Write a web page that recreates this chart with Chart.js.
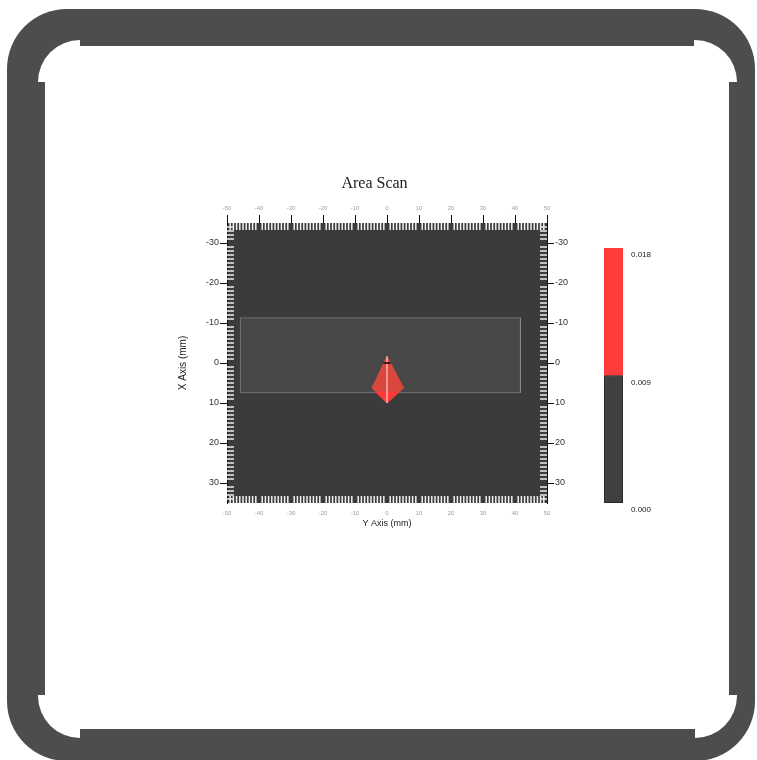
<!DOCTYPE html>
<html>
<head>
<meta charset="utf-8">
<title>Area Scan</title>
<script src="https://cdn.jsdelivr.net/npm/chart.js@4.4.0/dist/chart.umd.min.js"></script>
<style>
  html, body { margin: 0; padding: 0; background: #fff; }
  #wrap { position: relative; width: 757px; height: 760px; overflow: hidden; }
  #scan { position: absolute; left: 0; top: 0; }
  #scale { position: absolute; left: 590px; top: 235px; }
</style>
</head>
<body>
<div id="wrap">
  <canvas id="scan" width="757" height="760"></canvas>
  <canvas id="scale" width="90" height="290"></canvas>
</div>
<script>
'use strict';

// Horizontal axis is labelled "Y Axis (mm)", vertical one "X Axis (mm)".
const yAxisTicks = [-50, -40, -30, -20, -10, 0, 10, 20, 30, 40, 50];
const xAxisTicks = [-30, -20, -10, 0, 10, 20, 30];

// scanned area outline (mm)
const scanAreaY = [-45.8, 41.7, 41.7, -45.8, -45.8];
const scanAreaX = [-11.3, -11.3, 7.4, 7.4, -11.3];

// indication found in the scan
const indicationY = [0, 5.2, 0, -4.7, 0];
const indicationX = [-1.65, 6.25, 10, 6.25, -1.65];
const peakY = [-3.4, 3.4, 0, -3.4];
const peakX = [7.4, 7.4, 10, 7.4];
const centreLineY = [0, 0];
const centreLineX = [-1.65, 10];
const originY = [-1.1, 1.1];
const originX = [0, 0];

// colour scale
const colorBands = [0.009, 0.009];
const colorFills = ['#404040', '#ff3b3b'];
const colorTicks = [0, 0.009, 0.018];

const FRAME = '#4d4d4d';
const SANS = "'Liberation Sans', Arial, sans-serif";

function pts(hs, vs) {
  return hs.map((h, i) => ({ x: h, y: vs[i] }));
}

// Rounded frame around the page and the dark plot background
const framePlugin = {
  id: 'frame',
  beforeDraw(chart) {
    const ctx = chart.ctx;
    const a = chart.chartArea;
    ctx.save();
    ctx.fillStyle = '#fff';
    ctx.fillRect(0, 0, chart.width, chart.height);
    ctx.fillStyle = FRAME;
    ctx.beginPath();
    ctx.roundRect(7, 9, 748, 752, 60);
    ctx.fill();
    ctx.fillStyle = '#fff';
    ctx.beginPath();
    ctx.roundRect(38, 40, 699, 698, 42);
    ctx.fill();
    ctx.fillStyle = FRAME;
    ctx.fillRect(80, 40, 614, 6);
    ctx.fillRect(80, 729, 615, 9);
    ctx.fillRect(38, 82, 7, 613);
    ctx.fillRect(729, 82, 8, 613);
    ctx.fillStyle = '#3b3b3b';
    ctx.fillRect(a.left, a.top, a.width, a.height);
    ctx.restore();
  }
};

// White ruler marks along the inside of the plot edges
const rulerPlugin = {
  id: 'ruler',
  afterDatasetsDraw(chart) {
    const { ctx, chartArea: a, scales } = chart;
    ctx.save();
    ctx.strokeStyle = '#f0f0f0';
    ctx.lineWidth = 1.5;
    ctx.beginPath();
    for (let v = -49; v <= 49; v++) {
      if (v % 10 === 0) continue;
      const px = scales.x.getPixelForValue(v);
      ctx.moveTo(px, a.top);
      ctx.lineTo(px, a.top + 7);
      ctx.moveTo(px, a.bottom);
      ctx.lineTo(px, a.bottom - 7);
    }
    for (let v = -34; v <= 34; v++) {
      if (v % 10 === 0) continue;
      const py = scales.y.getPixelForValue(v);
      ctx.moveTo(a.left, py);
      ctx.lineTo(a.left + 7, py);
      ctx.moveTo(a.right, py);
      ctx.lineTo(a.right - 7, py);
    }
    ctx.stroke();
    ctx.restore();
  }
};

function fixedTicks(list) {
  return scale => { scale.ticks = list.map(v => ({ value: v })); };
}

const hTickOpts = { font: { family: SANS, size: 6 }, color: '#a0a0a0', maxRotation: 0 };
const vTickOpts = { font: { family: SANS, size: 9 }, color: '#333', padding: 1 };

new Chart(document.getElementById('scan'), {
  type: 'scatter',
  data: {
    datasets: [
      {
        data: pts(scanAreaY, scanAreaX),
        showLine: true, fill: 'shape', order: 5,
        backgroundColor: 'rgba(120,120,120,0.22)',
        borderColor: 'rgba(150,150,150,0.55)', borderWidth: 1, pointRadius: 0
      },
      {
        data: pts(indicationY, indicationX),
        showLine: true, fill: 'shape', order: 4,
        backgroundColor: '#d9473d', borderColor: '#d9473d', borderWidth: 1, pointRadius: 0
      },
      {
        data: pts(peakY, peakX),
        showLine: true, fill: 'shape', order: 3,
        backgroundColor: '#ff3838', borderColor: '#ff3838', borderWidth: 1, pointRadius: 0
      },
      {
        data: pts(centreLineY, centreLineX),
        showLine: true, order: 2,
        borderColor: 'rgba(255,175,175,0.8)', borderWidth: 1, pointRadius: 0
      },
      {
        data: pts(originY, originX),
        showLine: true, order: 1,
        borderColor: '#000', borderWidth: 1.5, pointRadius: 0
      }
    ]
  },
  options: {
    responsive: false,
    animation: false,
    devicePixelRatio: 1,
    events: [],
    layout: { padding: { left: 172, right: 180, top: 170, bottom: 221 } },
    plugins: {
      legend: { display: false },
      tooltip: { enabled: false },
      title: {
        display: true,
        text: 'Area Scan',
        color: '#222',
        font: { family: "'Liberation Serif', 'Times New Roman', serif", size: 16, weight: 'normal', lineHeight: 1.2 },
        padding: { top: 4.4, bottom: 7.4 }
      }
    },
    scales: {
      x: {
        type: 'linear', position: 'bottom', min: -50, max: 50,
        afterBuildTicks: fixedTicks(yAxisTicks),
        afterFit(s) { s.height = 36; },
        grid: { display: true, drawOnChartArea: false, drawTicks: false },
        border: { display: false },
        ticks: { ...hTickOpts, padding: 7 },
        title: {
          display: true, text: 'Y Axis (mm)', color: '#222',
          font: { family: SANS, size: 9 }, padding: { top: 0, bottom: 9.6 }
        }
      },
      x2: {
        type: 'linear', position: 'top', min: -50, max: 50,
        afterBuildTicks: fixedTicks(yAxisTicks),
        afterFit(s) { s.height = 22; },
        grid: { drawOnChartArea: false, drawTicks: true, tickLength: 8, color: '#111' },
        border: { display: false },
        ticks: { ...hTickOpts, padding: 3 }
      },
      y: {
        type: 'linear', position: 'left', min: -35, max: 35, reverse: true,
        afterBuildTicks: fixedTicks(xAxisTicks),
        afterFit(s) { s.width = 55; },
        grid: { drawOnChartArea: false, drawTicks: true, tickLength: 7, color: '#111' },
        border: { display: true, color: '#111', width: 1 },
        ticks: vTickOpts,
        title: {
          display: true, text: 'X Axis (mm)', color: '#222',
          font: { family: SANS, size: 10 }, padding: { top: 5, bottom: 0 }
        }
      },
      y2: {
        type: 'linear', position: 'right', min: -35, max: 35, reverse: true,
        afterBuildTicks: fixedTicks(xAxisTicks),
        afterFit(s) { s.width = 30; },
        grid: { drawOnChartArea: false, drawTicks: true, tickLength: 7, color: '#111' },
        border: { display: true, color: '#111', width: 1 },
        ticks: vTickOpts
      }
    }
  },
  plugins: [framePlugin, rulerPlugin]
});

// Colour scale bar
new Chart(document.getElementById('scale'), {
  type: 'bar',
  data: {
    labels: [''],
    datasets: colorBands.map((v, i) => ({
      data: [v],
      backgroundColor: colorFills[i],
      borderColor: '#222',
      borderWidth: i === 0 ? 1 : 0,
      borderSkipped: false,
      barPercentage: 1,
      categoryPercentage: 1
    }))
  },
  options: {
    responsive: false,
    animation: false,
    devicePixelRatio: 1,
    events: [],
    layout: { padding: { left: 14, top: 13, right: 0, bottom: 22 } },
    plugins: { legend: { display: false }, tooltip: { enabled: false } },
    scales: {
      x: { display: false, stacked: true },
      y: {
        stacked: true, position: 'right', min: 0, max: 0.018,
        afterBuildTicks: fixedTicks(colorTicks),
        afterFit(s) { s.width = 57; },
        grid: { display: false },
        border: { display: false },
        ticks: {
          labelOffset: 7, padding: 0, color: '#222',
          font: { family: SANS, size: 8 },
          callback: v => v.toFixed(3)
        }
      }
    }
  }
});
</script>
</body>
</html>
